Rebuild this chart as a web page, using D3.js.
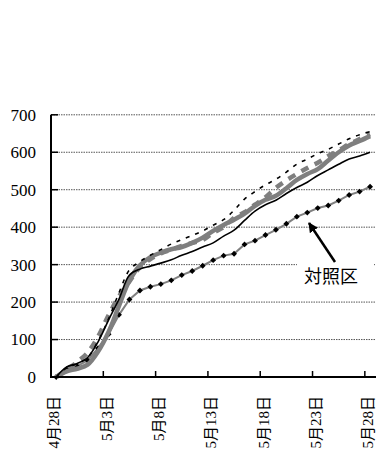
<!DOCTYPE html>
<html><head><meta charset="utf-8">
<script src="https://cdn.jsdelivr.net/npm/d3@7/dist/d3.min.js"></script>
<style>html,body{margin:0;padding:0;background:#fff;}svg{display:block;}
.t{font-family:"Liberation Serif","DejaVu Serif","Noto Sans CJK JP",serif;}</style>
</head><body>
<script>
const dates = ["4月28日","4月29日","4月30日","5月1日","5月2日","5月3日","5月4日","5月5日","5月6日","5月7日","5月8日","5月9日","5月10日","5月11日","5月12日","5月13日","5月14日","5月15日","5月16日","5月17日","5月18日","5月19日","5月20日","5月21日","5月22日","5月23日","5月24日","5月25日","5月26日","5月27日","5月28日"];
const graySolid  = [0,15,22,33,68,120,190,258,298,320,332,341,347,358,372,390,406,420,436,457,473,484,504,526,542,555,578,600,618,630,643];
const grayDashed = [0,20,40,65,108,165,215,255,293,315,330,340,350,358,366,385,400,425,440,460,480,505,525,542,558,572,590,605,622,635,648];
const blackSolid = [0,27,36,52,94,152,208,272,288,296,304,313,325,335,347,358,376,392,418,443,460,472,490,506,520,538,553,568,582,590,600];
const blackDotted= [0,25,35,52,96,155,225,286,308,325,340,355,367,378,390,405,420,445,475,495,513,528,547,568,582,596,608,622,636,647,655];
const control    = [0,21,29,44,77,114,166,207,231,241,248,258,272,283,297,312,324,329,354,364,379,393,409,428,439,451,458,471,486,495,508];
const yTicks = [0,100,200,300,400,500,600,700];
const tickLabelDates = ["4月28日","5月3日","5月8日","5月13日","5月18日","5月23日","5月28日"];
const tickBoundaryDates = ["5月3日","5月8日","5月13日","5月18日","5月23日","5月28日"];
const calloutText = "対照区";

const W = 376, H = 461;
const svg = d3.select("body").append("svg").attr("width", W).attr("height", H);
const x = d3.scalePoint().domain(dates).range([51, 375.3]).padding(0.5);
const step = x.step();
const y = d3.scaleLinear().domain([0, 700]).range([377, 114.8]);

// gridlines
svg.append("g").selectAll("line").data(yTicks.filter(v => v > 0)).join("line")
  .attr("x1", 51).attr("x2", W).attr("y1", d => y(d)).attr("y2", d => y(d))
  .attr("stroke", "#555").attr("stroke-width", 1).attr("stroke-dasharray", "1.5,1");

const line = (arr, curve) => d3.line().curve(curve || d3.curveLinear).x((d, i) => x(dates[i])).y(d => y(d))(arr);
const smooth = d3.curveCatmullRom.alpha(0.5);

// series
svg.append("path").attr("d", line(control)).attr("fill", "none").attr("stroke", "#808080").attr("stroke-width", 2);
svg.append("g").selectAll("path").data(control).join("path")
  .attr("d", d3.symbol().type(d3.symbolDiamond2).size(22))
  .attr("transform", (d, i) => `translate(${x(dates[i])},${y(d)})`)
  .attr("fill", "#000");
svg.append("path").attr("d", line(graySolid, smooth)).attr("fill", "none").attr("stroke", "#7f7f7f").attr("stroke-width", 4.5);
svg.append("path").attr("d", line(grayDashed, smooth)).attr("fill", "none").attr("stroke", "#7f7f7f").attr("stroke-width", 4.5).attr("stroke-dasharray", "8,7");
svg.append("path").attr("d", line(blackSolid, smooth)).attr("fill", "none").attr("stroke", "#000").attr("stroke-width", 1.6);
svg.append("path").attr("d", line(blackDotted, smooth)).attr("fill", "none").attr("stroke", "#000").attr("stroke-width", 1.6).attr("stroke-dasharray", "4,6");

// axes
svg.append("line").attr("x1", 51).attr("x2", 51).attr("y1", y(700)).attr("y2", 378).attr("stroke", "#000").attr("stroke-width", 2);
svg.append("line").attr("x1", 50).attr("x2", W).attr("y1", 377).attr("y2", 377).attr("stroke", "#000").attr("stroke-width", 2);
svg.append("g").selectAll("line").data(yTicks).join("line")
  .attr("x1", 51).attr("x2", 58).attr("y1", d => y(d)).attr("y2", d => y(d))
  .attr("stroke", "#000").attr("stroke-width", 1.5);
svg.append("g").selectAll("text").data(yTicks).join("text").attr("class", "t")
  .attr("x", 36).attr("y", d => y(d)).attr("dy", "0.35em").attr("text-anchor", "end")
  .style("font-size", "17px").attr("fill", "#000").text(d => d);
svg.append("g").selectAll("line").data(tickBoundaryDates).join("line")
  .attr("x1", d => x(d) - step / 2).attr("x2", d => x(d) - step / 2).attr("y1", 377).attr("y2", 371)
  .attr("stroke", "#000").attr("stroke-width", 1.5);
svg.append("g").selectAll("text").data(tickLabelDates).join("text").attr("class", "t")
  .attr("transform", d => `translate(${x(d) - 2},396) rotate(-90)`)
  .attr("dy", "0.35em").attr("text-anchor", "end")
  .style("font-size", "15px").attr("fill", "#000").text(d => d);

// callout
svg.append("rect").attr("x", 297).attr("y", 258).attr("width", 77).attr("height", 32).attr("fill", "#fff");
svg.append("text").attr("class", "t").attr("x", 331).attr("y", 283).attr("text-anchor", "middle")
  .style("font-size", "18px").attr("fill", "#000").text(calloutText);
svg.append("defs").append("marker").attr("id", "ah").attr("viewBox", "0 0 10 10").attr("refX", 9).attr("refY", 5)
  .attr("markerWidth", 4).attr("markerHeight", 4).attr("orient", "auto")
  .append("path").attr("d", "M0,0L10,5L0,10Z").attr("fill", "#000");
svg.append("line").attr("x1", 335).attr("y1", 262).attr("x2", 309).attr("y2", 223)
  .attr("stroke", "#000").attr("stroke-width", 2.5).attr("marker-end", "url(#ah)");
</script>
</body></html>
